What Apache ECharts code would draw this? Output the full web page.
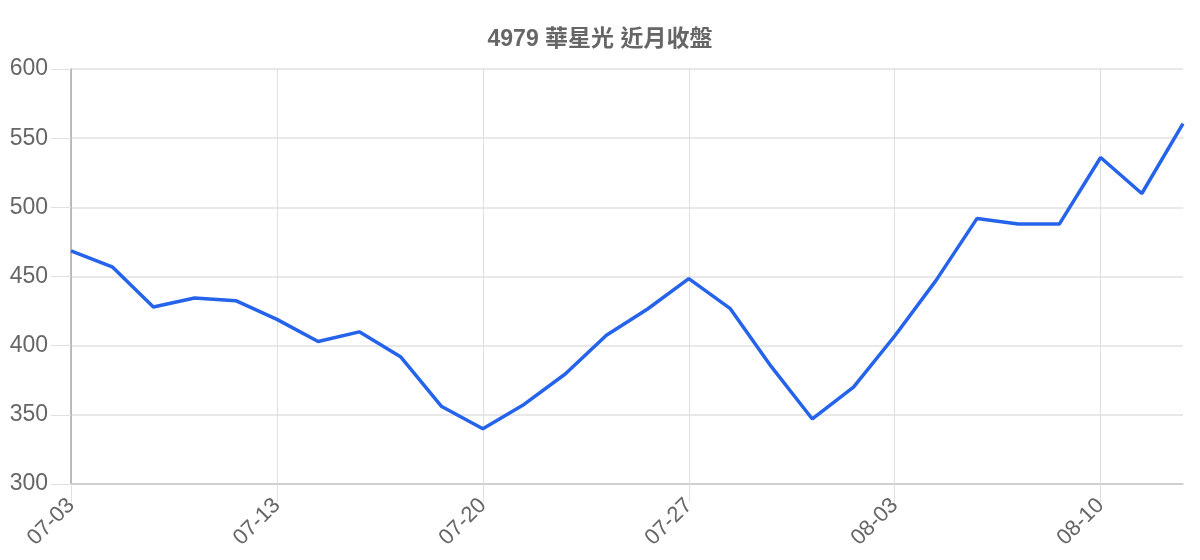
<!DOCTYPE html>
<html>
<head>
    <meta charset="utf-8">
    <title>4979 華星光 近月收盤</title>
    <style>
        html, body { margin: 0; padding: 0; background: #fff; }
        #chart { width: 1200px; height: 560px; }
    </style>
</head>
<body>
<div id="chart"></div>
<script src="https://cdn.jsdelivr.net/npm/echarts@6/dist/echarts.min.js"></script>
<script>
    var dates = ['07-03', '07-06', '07-07', '07-08', '07-09', '07-13', '07-14', '07-15', '07-16', '07-17',
        '07-20', '07-21', '07-22', '07-23', '07-24', '07-27', '07-28', '07-29', '07-30', '07-31',
        '08-03', '08-04', '08-05', '08-06', '08-07', '08-10', '08-11', '08-12'];
    var closes = [468.5, 457, 428, 434.5, 432.5, 419, 403, 410, 392, 356,
        340, 357.5, 379.5, 407.5, 426.5, 448.5, 427, 385, 347, 370,
        407, 447, 492, 488, 488, 536, 510, 560.5];
    var yTicks = [300, 350, 400, 450, 500, 550, 600];

    var chart = echarts.init(document.getElementById('chart'));
    var font = '"Liberation Sans", Arial, "Noto Sans CJK TC", sans-serif';

    chart.setOption({
        animation: false,
        title: {
            text: '4979 華星光 近月收盤',
            left: 'center',
            top: 23,
            textStyle: { color: '#666', fontSize: 23, fontWeight: 'bold', fontFamily: font }
        },
        grid: { left: 71, right: 17, top: 69, bottom: 76, containLabel: false },
        xAxis: {
            type: 'category',
            data: dates,
            boundaryGap: false,
            axisLine: { lineStyle: { color: '#c8c8c8', width: 1.5 } },
            axisTick: { show: true, interval: 4, length: 18, lineStyle: { color: '#e0e0e0' } },
            splitLine: { show: true, interval: 4, lineStyle: { color: '#e0e0e0', width: 1 } },
            axisLabel: {
                interval: 4,
                rotate: 45,
                margin: 18,
                color: '#666',
                fontSize: 22,
                fontFamily: font
            }
        },
        yAxis: {
            type: 'value',
            min: yTicks[0],
            max: yTicks[yTicks.length - 1],
            interval: 50,
            axisLine: { show: true, lineStyle: { color: '#aaa', width: 1.5 } },
            axisTick: { show: true, length: 20, lineStyle: { color: '#e0e0e0' } },
            splitLine: { show: true, lineStyle: { color: '#e0e0e0', width: 1.5 } },
            axisLabel: {
                margin: 23,
                color: '#666',
                fontSize: 23,
                fontFamily: font
            }
        },
        series: [{
            name: '收盤',
            type: 'line',
            data: closes,
            showSymbol: false,
            lineStyle: { color: '#2563eb', width: 3.5 },
            itemStyle: { color: '#2563eb' }
        }]
    });
</script>
</body>
</html>
